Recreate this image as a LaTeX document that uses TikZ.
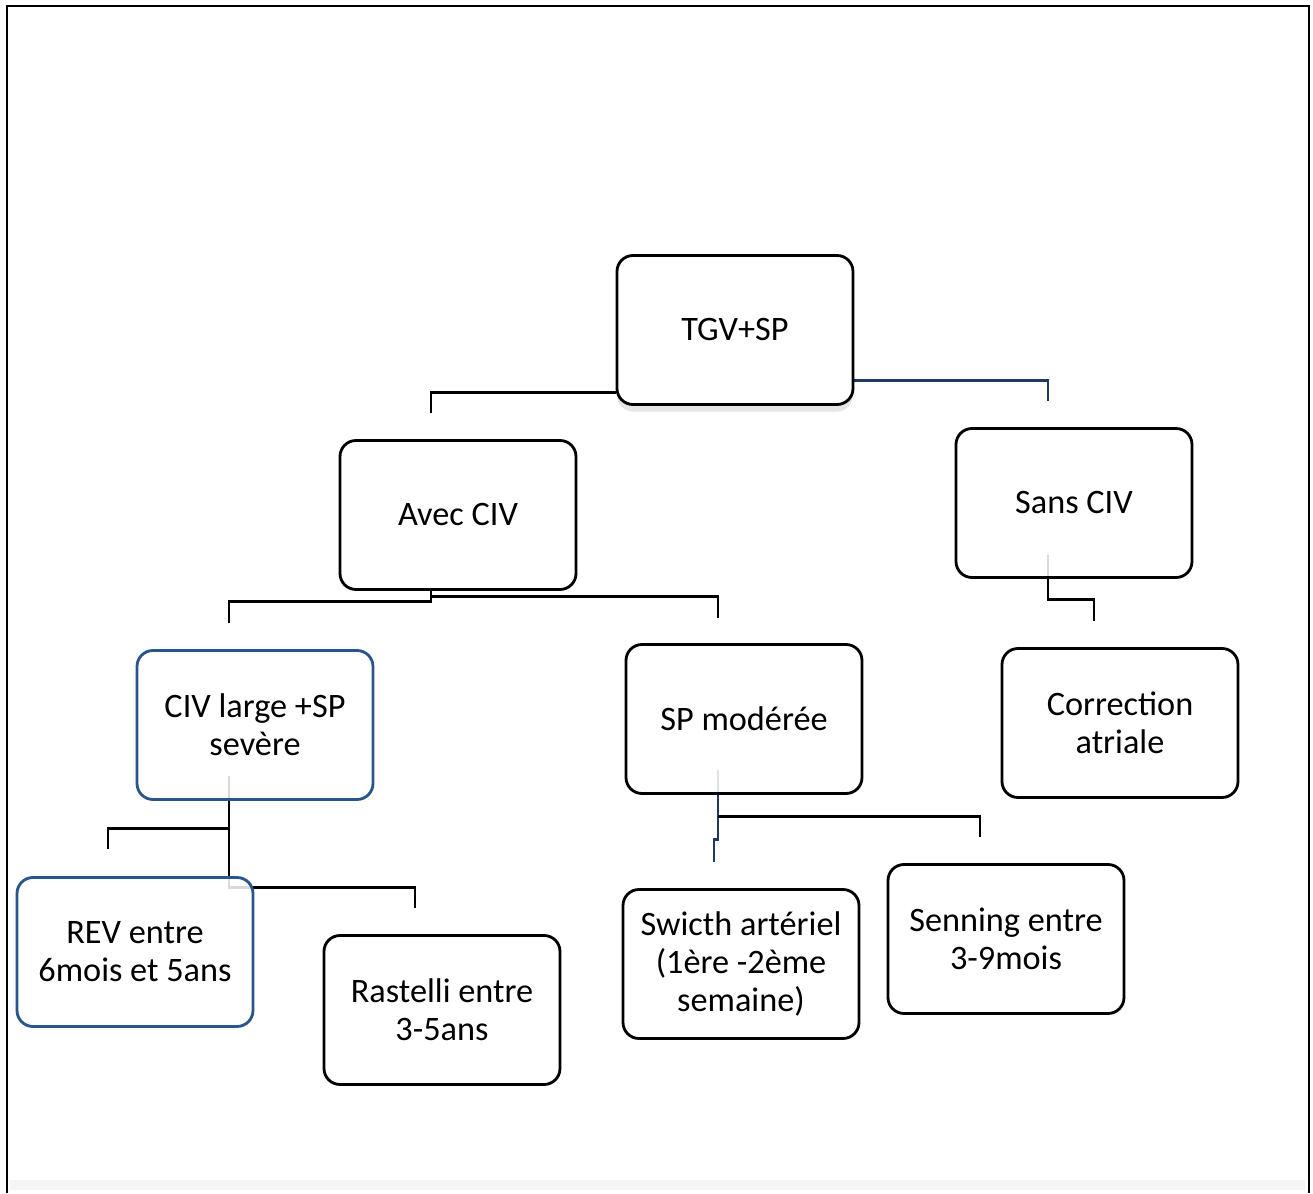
\documentclass[tikz,border=0pt]{standalone}
\usepackage{fontspec}
\setmainfont{Carlito}
\usetikzlibrary{backgrounds,shadows}
\definecolor{boxblue}{RGB}{41,84,140}
\definecolor{linkblue}{RGB}{31,56,100}

\begin{document}
\begin{tikzpicture}[
  box/.style={draw,line width=1.6pt,rounded corners=0.32cm,minimum width=4.72cm,minimum height=2.98cm,
    align=center,fill=white,fill opacity=0.85,text opacity=1,font=\fontsize{19.5}{21.5}\selectfont},
  bluebox/.style={box,draw=boxblue},
  link/.style={line width=1.6pt}]
\useasboundingbox (0,0) rectangle (26.26,23.86);
\node[box,fill opacity=1,drop shadow={shadow xshift=0pt,shadow yshift=-4pt,opacity=0.2}] (tgv) at (14.70,17.26) {TGV+SP};
\node[box] (avec) at (9.16,13.56) {Avec CIV};
\node[box] (sans) at (21.48,13.80) {Sans CIV};
\node[bluebox] (large) at (5.10,9.36) {CIV large +SP\\sevère};
\node[box] (moderee) at (14.88,9.48) {SP modérée};
\node[box] (atriale) at (22.40,9.40) {Correction\\atriale};
\node[bluebox] (rev) at (2.70,4.82) {REV entre\\6mois et 5ans};
\node[box] (rastelli) at (8.84,3.66) {Rastelli entre\\3-5ans};
\node[box] (switch) at (14.82,4.58) {Swicth artériel\\(1ère -2ème\\semaine)};
\node[box] (senning) at (20.12,5.08) {Senning entre\\3-9mois};
\begin{pgfonlayer}{background}
% frame
\draw[line width=1.2pt] (0.14,0) -- (0.14,23.74) -- (26.18,23.74) -- (26.18,0);
\fill[gray!8] (0.2,0.06) rectangle (26.1,0.26);
% connectors
\draw[link] ([yshift=0.26cm]tgv.south west) -| ([xshift=-0.54cm,yshift=0.52cm]avec.north);
\draw[link,linkblue] ([yshift=0.5cm]tgv.south east) -| ([xshift=-0.52cm,yshift=0.52cm]sans.north);
\draw[link] ([xshift=-0.54cm]avec.south) -- ++(0,-0.22) -| ([xshift=-0.52cm,yshift=0.52cm]large.north);
\draw[link] ([xshift=-0.54cm,yshift=-0.12cm]avec.south) -| ([xshift=-0.52cm,yshift=0.5cm]moderee.north);
\draw[link] ([xshift=-0.52cm,yshift=0.48cm]sans.south) -- ++(0,-0.9) -| ([xshift=-0.52cm,yshift=0.52cm]atriale.north);
\draw[link] ([xshift=-0.52cm,yshift=0.5cm]large.south) -- ++(0,-1.06) -| ([xshift=-0.54cm,yshift=0.54cm]rev.north);
\draw[link] ([xshift=-0.52cm,yshift=-0.56cm]large.south) -- ++(0,-1.18) -| ([xshift=-0.54cm,yshift=0.52cm]rastelli.north);
\draw[link,linkblue] ([xshift=-0.52cm,yshift=0.5cm]moderee.south) -- ++(0,-1.4) -| ([xshift=-0.54cm,yshift=0.52cm]switch.north);
\draw[link] ([xshift=-0.52cm,yshift=-0.44cm]moderee.south) -| ([xshift=-0.52cm,yshift=0.52cm]senning.north);
\end{pgfonlayer}
\end{tikzpicture}
\end{document}
